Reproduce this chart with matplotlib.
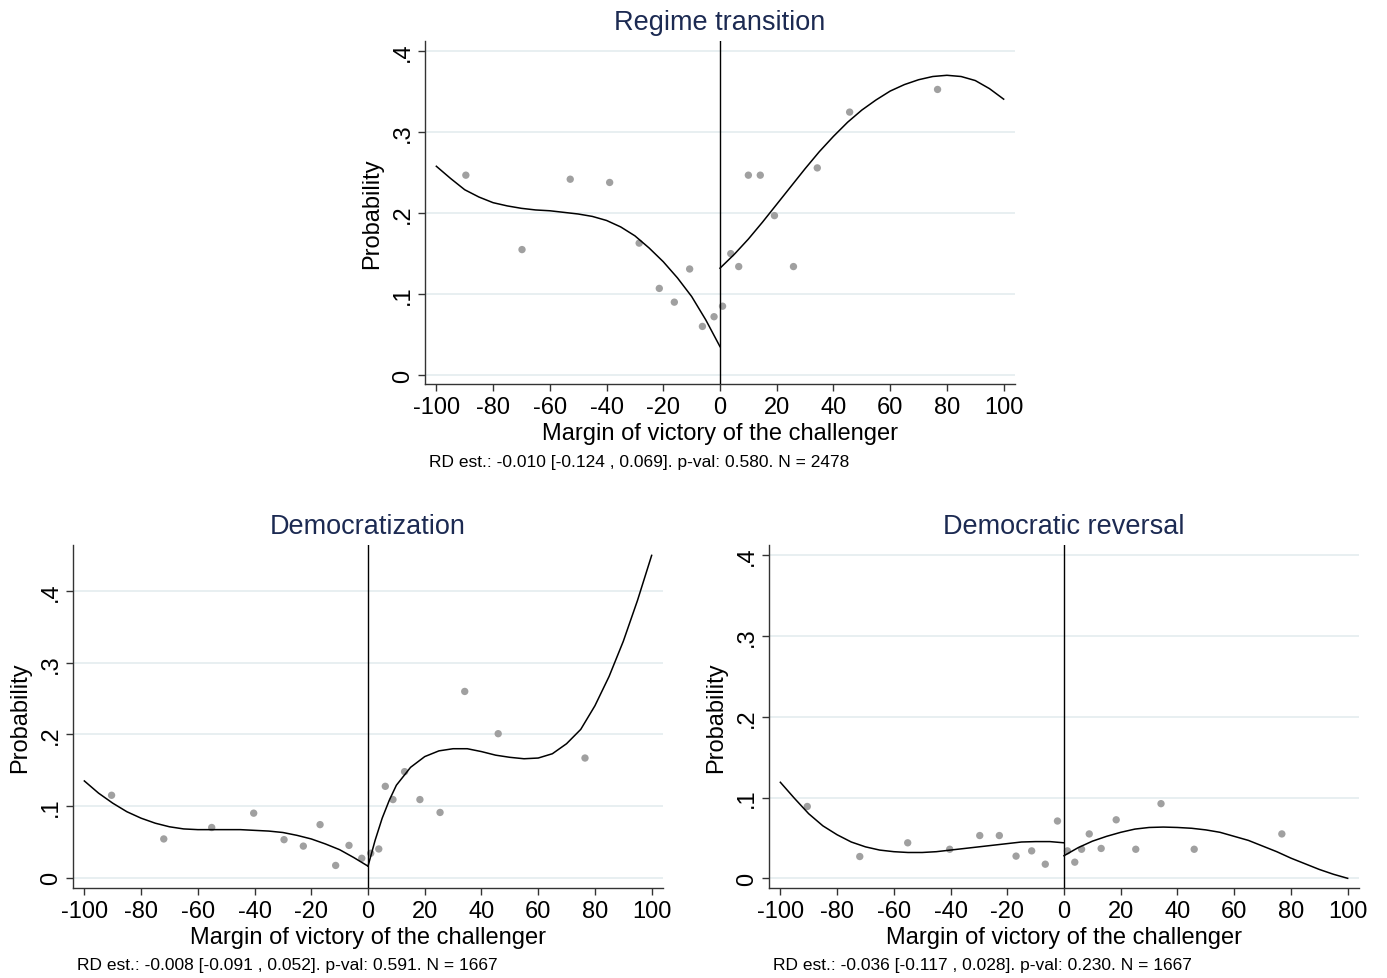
import matplotlib
matplotlib.use("Agg")
import matplotlib.pyplot as plt

plt.rcParams["font.family"] = ["Liberation Sans", "DejaVu Sans"]

# Regime transition: binned means
rt_bin_x = [-89.6, -69.8, -52.8, -38.9, -28.5, -21.4, -16.1, -10.7, -6.2, -2.1,
            0.9, 3.8, 6.6, 10.0, 14.2, 19.2, 25.9, 34.3, 45.7, 76.7]
rt_bin_y = [0.247, 0.155, 0.242, 0.238, 0.163, 0.107, 0.090, 0.131, 0.060, 0.072,
            0.085, 0.150, 0.134, 0.247, 0.247, 0.197, 0.134, 0.256, 0.325, 0.353]
# Regime transition: polynomial fit
rt_left_x = [-100, -95, -90, -85, -80, -75, -70, -65, -60, -55, -50, -45, -40, -35, -30, -25, -20, -15, -10, -5, 0]
rt_left_y = [0.258, 0.243, 0.229, 0.220, 0.213, 0.209, 0.206, 0.204, 0.203, 0.201, 0.199, 0.196, 0.191, 0.183,
             0.172, 0.157, 0.140, 0.120, 0.097, 0.068, 0.035]
rt_right_x = [0, 5, 10, 15, 20, 25, 30, 35, 40, 45, 50, 55, 60, 65, 70, 75, 80, 85, 90, 95, 100]
rt_right_y = [0.132, 0.149, 0.168, 0.189, 0.211, 0.233, 0.255, 0.276, 0.295, 0.3125, 0.3275, 0.340, 0.351,
              0.359, 0.365, 0.369, 0.3705, 0.369, 0.364, 0.354, 0.341]

# Democratization
dz_bin_x = [-90.4, -72.0, -55.1, -40.3, -29.6, -22.8, -16.9, -11.4, -6.7, -2.2,
            0.95, 3.8, 6.1, 8.8, 12.9, 18.3, 25.4, 34.1, 45.9, 76.5]
dz_bin_y = [0.115, 0.054, 0.070, 0.090, 0.053, 0.044, 0.074, 0.017, 0.045, 0.027,
            0.034, 0.040, 0.1275, 0.109, 0.148, 0.109, 0.091, 0.260, 0.201, 0.167]
dz_left_x = [-100, -95, -90, -85, -80, -75, -70, -65, -60, -55, -50, -45, -40, -35, -30, -25, -20, -15, -10, -5, 0]
dz_left_y = [0.135, 0.118, 0.104, 0.092, 0.083, 0.076, 0.071, 0.068, 0.067, 0.067, 0.067, 0.067, 0.066,
             0.065, 0.063, 0.059, 0.054, 0.047, 0.039, 0.028, 0.016]
dz_right_x = [0, 2.5, 5, 7.5, 10, 15, 20, 25, 30, 35, 40, 45, 50, 55, 60, 65, 70, 75, 80, 85, 90, 95, 100]
dz_right_y = [0.016, 0.052, 0.083, 0.108, 0.129, 0.154, 0.169, 0.177, 0.180, 0.180, 0.176, 0.171, 0.168,
              0.166, 0.167, 0.173, 0.187, 0.207, 0.240, 0.281, 0.330, 0.387, 0.450]

# Democratic reversal
dr_bin_x = [-90.5, -72.0, -55.1, -40.3, -29.7, -22.8, -16.9, -11.4, -6.6, -2.3,
            1.2, 3.8, 6.2, 8.9, 13.1, 18.4, 25.3, 34.2, 45.9, 76.8]
dr_bin_y = [0.089, 0.027, 0.044, 0.036, 0.053, 0.053, 0.0275, 0.034, 0.0175, 0.071,
            0.034, 0.020, 0.036, 0.055, 0.037, 0.0725, 0.036, 0.0925, 0.036, 0.055]
dr_left_x = [-100, -95, -90, -85, -80, -75, -70, -65, -60, -55, -50, -45, -40, -35, -30, -25, -20, -15, -10, -5, 0]
dr_left_y = [0.119, 0.099, 0.080, 0.065, 0.054, 0.045, 0.039, 0.035, 0.033, 0.032, 0.032, 0.033, 0.035,
             0.037, 0.039, 0.041, 0.043, 0.045, 0.0455, 0.0455, 0.044]
dr_right_x = [0, 5, 10, 15, 20, 25, 30, 35, 40, 45, 50, 55, 60, 65, 70, 75, 80, 85, 90, 95, 100]
dr_right_y = [0.028, 0.038, 0.046, 0.052, 0.057, 0.061, 0.063, 0.0635, 0.063, 0.062, 0.060, 0.057, 0.052,
              0.047, 0.040, 0.033, 0.025, 0.018, 0.011, 0.005, 0.000]

x_ticks = [-100, -80, -60, -40, -20, 0, 20, 40, 60, 80, 100]
y_ticks = [0, 0.1, 0.2, 0.3, 0.4]
y_tick_labels = ["0", ".1", ".2", ".3", ".4"]

W, H = 1387, 979
fig = plt.figure(figsize=(W / 100, H / 100), dpi=100)
fig.patch.set_facecolor("white")

TITLE_COLOR = "#1c2a52"
GRID_COLOR = "#e6eef0"
POINT_COLOR = "#a0a0a0"


def panel(left, top, title, bx, by, lx, ly, rx, ry, ylim, note):
    # left/top in pixels, axes 590 x 343 px
    ax = fig.add_axes([left / W, (H - top - 343) / H, 590 / W, 343 / H])
    ax.set_xlim(-104, 104)
    ax.set_ylim(*ylim)
    for y in y_ticks:
        ax.axhline(y, color=GRID_COLOR, lw=1.3, zorder=0)
    ax.scatter(bx, by, s=28, color=POINT_COLOR, edgecolors="none", zorder=2)
    ax.plot(lx, ly, color="black", lw=1.1, zorder=3)
    ax.plot(rx, ry, color="black", lw=1.1, zorder=3)
    ax.axvline(0, color="black", lw=1.0, zorder=3)

    for s in ["top", "right"]:
        ax.spines[s].set_visible(False)
    for s in ["left", "bottom"]:
        ax.spines[s].set_linewidth(1.0)
        ax.spines[s].set_color("#333333")

    ax.set_xticks(x_ticks)
    ax.set_xticklabels([str(t) for t in x_ticks], fontsize=17)
    ax.set_yticks(y_ticks)
    ax.set_yticklabels(y_tick_labels, fontsize=17, rotation=90, va="center")
    ax.tick_params(axis="both", direction="out", length=5, width=1.0, color="#333333")
    ax.tick_params(axis="x", pad=3.5)
    ax.tick_params(axis="y", pad=3)

    ax.set_xlabel("Margin of victory of the challenger", fontsize=17, labelpad=3)
    ax.set_ylabel("Probability", fontsize=17)
    ax.yaxis.set_label_coords(-0.071, 0.5)
    ax.set_title(title, fontsize=19.5, color=TITLE_COLOR, pad=9)
    fig.text((left + 4) / W, (H - top - 343 - 77) / H, note, fontsize=12.5, ha="left", va="center")
    return ax


panel(425, 42, "Regime transition", rt_bin_x, rt_bin_y, rt_left_x, rt_left_y,
      rt_right_x, rt_right_y, (-0.0112, 0.4129),
      "RD est.: -0.010 [-0.124 , 0.069]. p-val: 0.580. N = 2478")
panel(73, 546, "Democratization", dz_bin_x, dz_bin_y, dz_left_x, dz_left_y,
      dz_right_x, dz_right_y, (-0.0145, 0.4645),
      "RD est.: -0.008 [-0.091 , 0.052]. p-val: 0.591. N = 1667")
panel(769, 546, "Democratic reversal", dr_bin_x, dr_bin_y, dr_left_x, dr_left_y,
      dr_right_x, dr_right_y, (-0.012, 0.413),
      "RD est.: -0.036 [-0.117 , 0.028]. p-val: 0.230. N = 1667")

fig.savefig("out.png", dpi=100)
